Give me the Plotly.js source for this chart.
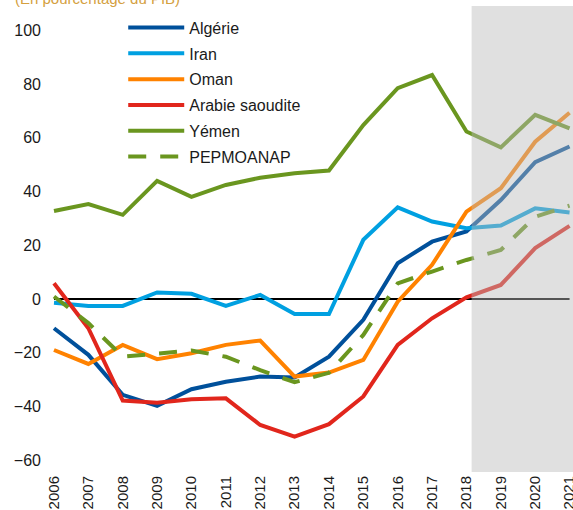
<!DOCTYPE html>
<html>
<head>
<meta charset="utf-8">
<script src="https://cdn.plot.ly/plotly-3.0.1.min.js"></script>
<style>html,body{margin:0;padding:0;background:#fff;}#chart{width:573px;height:510px;}</style>
</head>
<body>
<div id="chart"></div>
<script>
const years = [2006, 2007, 2008, 2009, 2010, 2011, 2012, 2013, 2014, 2015, 2016, 2017, 2018, 2019, 2020, 2021];
const yearLabels = ["2006","2007","2008","2009","2010","2011","2012","2013","2014","2015","2016","2017","2018","2019","2020","2021"];
const algerie   = [-10.9, -20.8, -35.7, -39.8, -33.6, -30.8, -28.9, -29.2, -21.5, -7.8, 13.3, 21.3, 25.1, 36.8, 50.9, 56.7];
const iran      = [-1.4, -2.6, -2.6, 2.4, 1.9, -2.6, 1.5, -5.6, -5.6, 22.0, 34.1, 28.8, 26.3, 27.3, 33.7, 32.2];
const oman      = [-19.0, -24.2, -17.1, -22.4, -20.2, -17.1, -15.5, -28.9, -27.4, -22.7, -1.0, 12.7, 32.5, 41.2, 58.5, 69.3];
const arabie    = [5.8, -10.9, -37.8, -38.6, -37.3, -37.0, -46.9, -51.2, -46.6, -36.3, -17.1, -7.2, 0.6, 5.2, 18.9, 27.2];
const yemen     = [32.7, 35.3, 31.3, 43.9, 38.0, 42.4, 45.1, 46.8, 47.8, 64.7, 78.4, 83.3, 62.3, 56.4, 68.5, 63.5];
const pepmoanap = [0.9, -9.0, -21.5, -20.5, -19.2, -21.5, -26.5, -31.0, -27.5, -13.4, 5.8, 10.2, 14.5, 18.2, 30.6, 34.7];
const seriesNames = ["Algérie", "Iran", "Oman", "Arabie saoudite", "Yémen", "PEPMOANAP"];
const yTicks = [-60, -40, -20, 0, 20, 40, 60, 80, 100];
const projectionStart = 2018;
const subtitle = "(En pourcentage du PIB)";

const colors = ["#00509b", "#00a0e1", "#ff8200", "#e1261c", "#6a961f", "#6a961f"];
const seriesData = [algerie, iran, oman, arabie, yemen, pepmoanap];
const FONT = "Liberation Sans, Arial, sans-serif";
const xEnd = 2021.1;

const traces = seriesData.map((d, i) => ({
  type: "scatter",
  mode: "lines",
  x: years,
  y: d,
  name: seriesNames[i],
  legendgroup: "g" + i,
  line: {color: colors[i], width: 4, dash: i === 5 ? "18px,14px" : "solid"},
  hoverinfo: "skip"
}));

const layout = {
  width: 573, height: 510,
  margin: {l: 50, r: 0, t: 6, b: 38},
  paper_bgcolor: "#ffffff",
  plot_bgcolor: "#ffffff",
  font: {family: FONT, size: 16, color: "#1a1a1a"},
  showlegend: true,
  legend: {
    x: 0.14, y: 0.990, xanchor: "left", yanchor: "top",
    bgcolor: "rgba(0,0,0,0)", borderwidth: 0,
    font: {family: FONT, size: 16, color: "#1a1a1a"},
    tracegroupgap: 2,
    itemwidth: 56
  },
  xaxis: {
    range: [2005.884, xEnd],
    tickvals: years, ticktext: yearLabels,
    tickangle: -90,
    ticklabeloverflow: "allow",
    showgrid: false, zeroline: false, showline: false, ticks: "",
    tickfont: {family: FONT, size: 15, color: "#1a1a1a"},
    fixedrange: true
  },
  yaxis: {
    range: [-64.4, 109],
    tickvals: yTicks,
    showgrid: false, zeroline: false, showline: false, ticks: "",
    ticklabelstandoff: 8,
    tickfont: {family: FONT, size: 16, color: "#1a1a1a"},
    fixedrange: true
  },
  shapes: [
    {type: "line", xref: "x", yref: "y", x0: years[0], x1: years[years.length - 1], y0: 0, y1: 0,
     line: {color: "#000000", width: 2}, layer: "below"},
    {type: "rect", xref: "x", yref: "paper", x0: projectionStart + 0.15, x1: xEnd, y0: 0, y1: 1,
     fillcolor: "rgba(187,187,187,0.45)", line: {width: 0}, layer: "above"}
  ],
  annotations: [
    {text: subtitle, xref: "paper", yref: "paper", x: -0.07, y: 1, xanchor: "left", yanchor: "middle",
     yshift: 8, showarrow: false, font: {family: FONT, size: 15, color: "#d4a040"}}
  ]
};

Plotly.newPlot("chart", traces, layout, {displayModeBar: false, staticPlot: true});
</script>
</body>
</html>
